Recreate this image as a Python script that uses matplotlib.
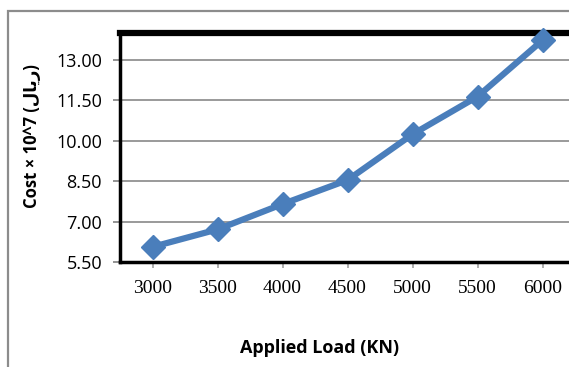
import matplotlib
matplotlib.use("Agg")
import matplotlib.pyplot as plt
from matplotlib.patches import Rectangle

# applied load vs. cost
loads = ["3000", "3500", "4000", "4500", "5000", "5500", "6000"]
cost = [6.06, 6.71, 7.65, 8.54, 10.24, 11.64, 13.73]
yticks = [5.50, 7.00, 8.50, 10.00, 11.50, 13.00]

fig = plt.figure(figsize=(5.69, 3.67), dpi=100)

# outer chart frame (runs off the right and bottom edge)
fig.add_artist(Rectangle((7.5 / 569, -0.1), 1.2, 1.1 - 11.5 / 367,
                         transform=fig.transFigure, fill=False,
                         edgecolor="#8c8c8c", linewidth=1.6))

W, H = 569.0, 367.0
left, right, top, bottom = 120, 575, 33, 262
ax = fig.add_axes([left / W, 1 - bottom / H, (right - left) / W, (bottom - top) / H])

x = list(range(len(loads)))
ax.plot(x, cost, color="#4a7ebb", linewidth=4.5, marker="D", markersize=12,
        markerfacecolor="#4a7ebb", markeredgecolor="#4a7ebb", zorder=3,
        clip_on=False)

ax.set_xlim(-0.5, len(loads) - 0.5)
ax.set_ylim(5.5, 14.0)
ax.set_yticks(yticks)
ax.set_yticklabels(["%.2f" % v for v in yticks], fontfamily="Open Sans", fontsize=13)
ax.set_xticks(x)
ax.set_xticklabels(loads, fontfamily="Liberation Serif", fontsize=14)

ax.grid(axis="y", color="#9a9a9a", linewidth=1.4)
ax.set_axisbelow(True)
ax.tick_params(axis="y", length=5, width=1.2, color="#808080", pad=8)
ax.tick_params(axis="x", length=4, width=1.2, color="#a0a0a0", pad=9)

for s in ["left", "bottom"]:
    ax.spines[s].set_linewidth(2.5)
    ax.spines[s].set_color("black")
ax.spines["top"].set_linewidth(4.5)
ax.spines["right"].set_visible(False)

# rial written with presentation forms in visual order (no bidi shaping in mpl)
rial = "\ufedd\ufe8e\ufef3\ufead"
fig.text(320 / W, 1 - 348 / H, "Applied Load (KN)", ha="center", va="center",
         fontfamily="Open Sans", fontweight="bold", fontsize=13)
fig.text(32 / W, 1 - 136 / H, "Cost \u00d7 10^7 (" + rial + ")", rotation=90,
         ha="center", va="center", fontfamily=["Open Sans", "DejaVu Sans"],
         fontweight="bold", fontsize=12)

fig.savefig("out.png", dpi=100)
